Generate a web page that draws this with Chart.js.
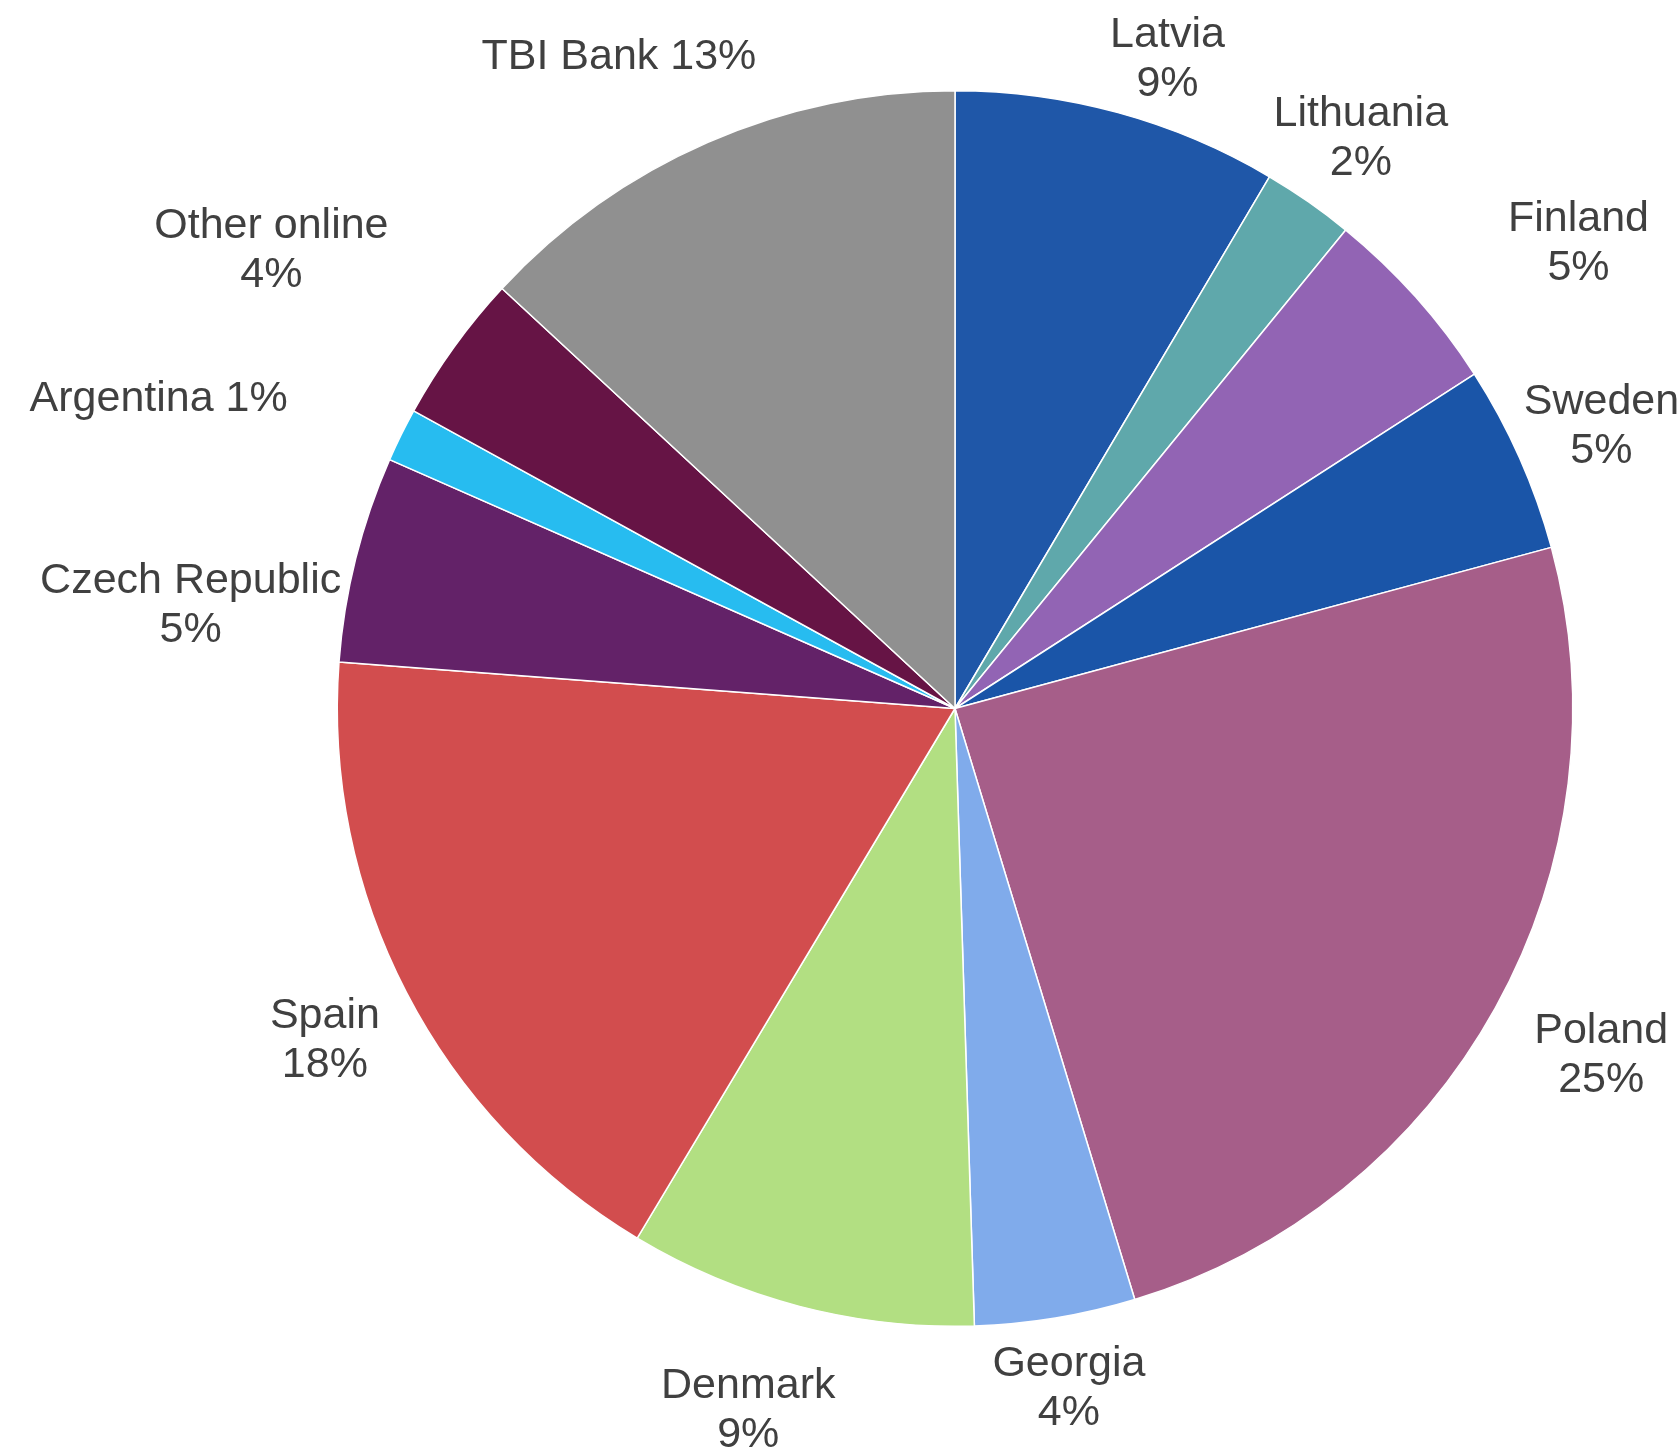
<!DOCTYPE html>
<html>
<head>
<meta charset="utf-8">
<script src="https://cdn.jsdelivr.net/npm/chart.js@4/dist/chart.umd.min.js"></script>
<style>
  html, body { margin: 0; padding: 0; background: #fff; }
  #wrap { width: 1680px; height: 1453px; }
</style>
</head>
<body>
<div id="wrap"><canvas id="grafica"></canvas></div>
<script>
// categorias en orden de las agujas del reloj, empezando arriba
const PAISES = ['Latvia', 'Lithuania', 'Finland', 'Sweden', 'Poland', 'Georgia',
    'Denmark', 'Spain', 'Czech Republic', 'Argentina', 'Other online', 'TBI Bank'];
const VALORES = [8.5, 2.4, 5.0, 4.9, 24.5, 4.2, 9.1, 17.6, 5.4, 1.4, 3.9, 13.1];
// porcentaje que muestra cada etiqueta
const PORCENTAJES = [9, 2, 5, 5, 25, 4, 9, 18, 5, 1, 4, 13];
const UNA_LINEA = ['Argentina', 'TBI Bank'];

const COLORES = ['#1F57A8', '#5FA8AB', '#9264B4', '#1A55A8', '#A65E89', '#80ABEB',
    '#B2DF82', '#D24D4E', '#632268', '#27BCF0', '#661445', '#909090'];

// ajuste de etiquetas: [giro en grados, distancia extra fuera del borde]
const AJUSTE_ETIQUETAS = [[2.75, 68], [0.35, 85], [4.85, 162], [0.1, 89], [-1.0, 114], [-0.2, 68],
    [1.9, 111], [-0.2, 93], [-6.1, 154], [-4.8, 238], [-1.8, 207], [-3.6, 118]];

const FUENTE = 43;
const INTERLINEA = 49;

const etiquetas = {
    id: 'etiquetas',
    afterDatasetsDraw(chart) {
        const ctx = chart.ctx;
        const arcos = chart.getDatasetMeta(0).data;
        ctx.save();
        ctx.font = FUENTE + 'px "Liberation Sans", Arial, sans-serif';
        ctx.fillStyle = '#404040';
        ctx.textAlign = 'center';
        ctx.textBaseline = 'alphabetic';
        arcos.forEach((arco, i) => {
            const p = arco.getProps(['x', 'y', 'startAngle', 'endAngle', 'outerRadius'], true);
            const ang = (p.startAngle + p.endAngle) / 2 + AJUSTE_ETIQUETAS[i][0] * Math.PI / 180;
            const r = p.outerRadius + AJUSTE_ETIQUETAS[i][1];
            const cx = p.x + r * Math.cos(ang);
            const cy = p.y + r * Math.sin(ang);
            const lineas = UNA_LINEA.includes(PAISES[i])
                ? [PAISES[i] + ' ' + PORCENTAJES[i] + '%']
                : [PAISES[i], PORCENTAJES[i] + '%'];
            const mitadCap = FUENTE * 0.716 / 2;
            lineas.forEach((txt, j) => {
                const yy = cy + mitadCap + (j - (lineas.length - 1) / 2) * INTERLINEA;
                ctx.fillText(txt, cx, yy);
            });
        });
        ctx.restore();
    }
};

const ctx = document.getElementById('grafica').getContext('2d');
const grafica = new Chart(ctx, {
    type: 'pie',
    data: {
        labels: PAISES,
        datasets: [{
            data: VALORES,
            backgroundColor: COLORES,
            borderColor: '#ffffff',
            borderWidth: 1.5
        }]
    },
    options: {
        responsive: true,
        maintainAspectRatio: false,
        animation: false,
        layout: {
            padding: { top: 90, bottom: 126, left: 330, right: 100 }
        },
        plugins: {
            legend: { display: false },
            tooltip: { enabled: false }
        }
    },
    plugins: [etiquetas]
});
</script>
</body>
</html>
